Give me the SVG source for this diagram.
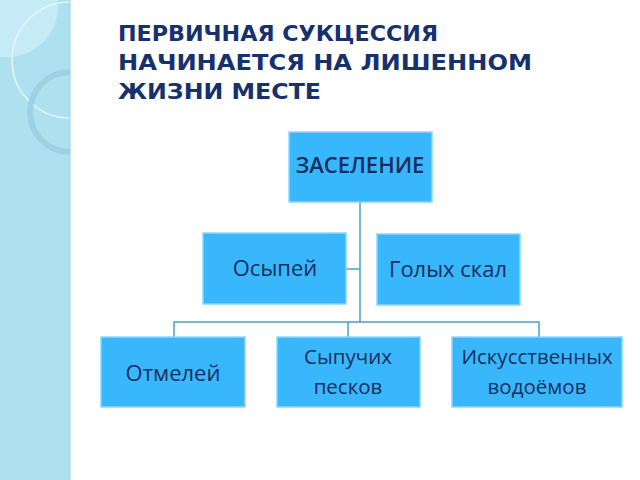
<svg xmlns="http://www.w3.org/2000/svg" width="640" height="480" viewBox="0 0 640 480">
<style>
.box{fill:#38b7fd;stroke:#8fd6ff;stroke-width:1.5}
.t{font-family:"Open Sans","DejaVu Sans",sans-serif;font-size:22px;fill:#1a2d5c;text-anchor:middle}
.s{font-size:20.5px}
.c{fill:none;stroke:#4aa3c8;stroke-width:1.5}
</style>
<defs><clipPath id="cp"><rect width="70" height="480"/></clipPath></defs>
<rect width="640" height="480" fill="#fff"/>
<g id="strip">
<rect width="70" height="480" fill="#aee1f0"/>
<g clip-path="url(#cp)">
<path d="M0,0 H58 A52,52 0 0 1 0,57 Z" fill="#c4ebf6"/>
<circle cx="70" cy="60" r="58" fill="none" stroke="#e6f7fc" stroke-width="1.5"/>
<circle cx="70" cy="112" r="40" fill="none" stroke="#9dd2e4" stroke-width="6"/>
</g>
<line x1="70" y1="0" x2="70" y2="480" stroke="#9ccfdf"/>
</g>
<g id="title" font-family="'DejaVu Sans',sans-serif" font-weight="bold" font-size="22" fill="#17306e">
<text x="118" y="41" textLength="320" lengthAdjust="spacingAndGlyphs">ПЕРВИЧНАЯ СУКЦЕССИЯ</text>
<text x="118" y="70" textLength="414" lengthAdjust="spacingAndGlyphs">НАЧИНАЕТСЯ НА ЛИШЕННОМ</text>
<text x="118" y="99" textLength="203" lengthAdjust="spacingAndGlyphs">ЖИЗНИ МЕСТЕ</text>
</g>
<g id="connectors">
<path class="c" d="M360,202 V322 M174,337 V322 H539 V337 M348,322 V337 M346,269 H360"/>
</g>
<g id="n0"><rect class="box" x="289" y="132" width="143" height="70"/><text class="t" x="360" y="173" font-weight="600" font-size="18">ЗАСЕЛЕНИЕ</text></g>
<g id="n1"><rect class="box" x="203" y="233" width="143" height="71"/><text class="t" x="275" y="276">Осыпей</text></g>
<g id="n2"><rect class="box" x="377" y="234" width="143" height="71"/><text class="t" x="448" y="277">Голых скал</text></g>
<g id="n3"><rect class="box" x="101" y="337" width="144" height="70"/><text class="t" x="173" y="381">Отмелей</text></g>
<g id="n4"><rect class="box" x="277" y="337" width="143" height="70"/><text class="t s" x="348" y="364">Сыпучих</text><text class="t s" x="348" y="394">песков</text></g>
<g id="n5"><rect class="box" x="452" y="337" width="170" height="70"/><text class="t s" x="537" y="364">Искусственных</text><text class="t s" x="537" y="394">водоёмов</text></g>
</svg>
